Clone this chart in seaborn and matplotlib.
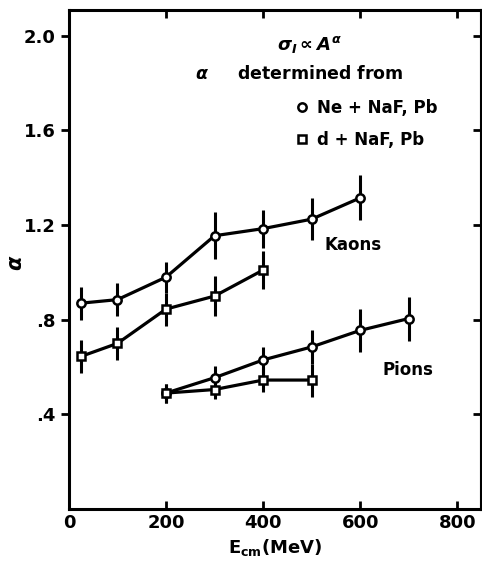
import pandas as pd
import seaborn as sns
import matplotlib.pyplot as plt
from matplotlib.lines import Line2D

# kaons
kaon_ne_x = [25, 100, 200, 300, 400, 500, 600]
kaon_ne_y = [0.87, 0.885, 0.98, 1.155, 1.185, 1.225, 1.315]
kaon_ne_err = [0.07, 0.07, 0.065, 0.10, 0.08, 0.09, 0.095]

kaon_d_x = [25, 100, 200, 300, 400]
kaon_d_y = [0.645, 0.70, 0.845, 0.90, 1.01]
kaon_d_err = [0.07, 0.07, 0.07, 0.085, 0.08]

# pions
pion_ne_x = [200, 300, 400, 500, 600, 700]
pion_ne_y = [0.49, 0.555, 0.63, 0.685, 0.755, 0.805]
pion_ne_err = [0.04, 0.05, 0.055, 0.07, 0.09, 0.093]

pion_d_x = [200, 300, 400, 500]
pion_d_y = [0.49, 0.505, 0.545, 0.545]
pion_d_err = [0.04, 0.04, 0.05, 0.07]

x_ticks = [0, 200, 400, 600, 800]
y_ticks = [0.4, 0.8, 1.2, 1.6, 2.0]
y_tick_labels = ['.4', '.8', '1.2', '1.6', '2.0']

sns.set_style('ticks')
plt.rcParams['font.family'] = ['DejaVu Sans']
plt.rcParams['font.weight'] = 'bold'
plt.rcParams['mathtext.fontset'] = 'dejavusans'
for key in ['text.color', 'axes.labelcolor', 'xtick.color', 'ytick.color', 'axes.edgecolor']:
    plt.rcParams[key] = 'black'

fig = plt.figure(figsize=(4.82, 5.70), dpi=100)
ax = fig.add_axes([0.143, 0.107, 0.855, 0.875])

series = [
    (kaon_ne_x, kaon_ne_y, kaon_ne_err, 'o'),
    (kaon_d_x, kaon_d_y, kaon_d_err, 's'),
    (pion_ne_x, pion_ne_y, pion_ne_err, 'o'),
    (pion_d_x, pion_d_y, pion_d_err, 's'),
]
for xs, ys, errs, mk in series:
    df = pd.DataFrame({'E': xs, 'alpha': ys})
    ax.errorbar(xs, ys, yerr=errs, fmt='none', ecolor='black', elinewidth=2.2, capsize=0, zorder=2)
    sns.lineplot(data=df, x='E', y='alpha', ax=ax, color='black', linewidth=2.3,
                 marker=mk, markersize=6 if mk == 'o' else 5.5, markerfacecolor='white',
                 markeredgecolor='black', markeredgewidth=1.8, zorder=3)

ax.set_xlim(0, 849)
ax.set_ylim(0, 2.108)
ax.set_xticks(x_ticks)
ax.set_yticks(y_ticks)
ax.set_yticklabels(y_tick_labels)
ax.tick_params(axis='both', labelsize=13, width=2, length=6)
ax.tick_params(axis='x', direction='in', top=True)
ax.tick_params(axis='y', direction='out')
for lab in ax.get_xticklabels() + ax.get_yticklabels():
    lab.set_fontweight('bold')
for side in ['top', 'right', 'left', 'bottom']:
    ax.spines[side].set_linewidth(2.2)

# inward ticks on the right side
ax_r = ax.twinx()
ax_r.set_ylim(ax.get_ylim())
ax_r.set_yticks(y_ticks)
ax_r.tick_params(axis='y', direction='in', width=2, length=6, labelright=False)
ax_r.spines['right'].set_linewidth(2.2)

ax.set_xlabel(r'E$_{\mathbf{cm}}$(MeV)', fontsize=13, fontweight='bold', labelpad=4)
ax.set_ylabel(r'$\alpha$', fontsize=15)
ax.yaxis.set_label_coords(-0.105, 0.493)

ax.text(0.505, 0.932, r'$\sigma_I \propto A^{\alpha}$', transform=ax.transAxes,
        ha='left', va='center', fontsize=13)
ax.text(0.305, 0.872, r'$\alpha$     determined from', transform=ax.transAxes,
        ha='left', va='center', fontsize=12.5, fontweight='bold')

handles = [
    Line2D([], [], linestyle='none', marker='o', markersize=6, markerfacecolor='white',
           markeredgecolor='black', markeredgewidth=1.8, label='Ne + NaF, Pb'),
    Line2D([], [], linestyle='none', marker='s', markersize=5.5, markerfacecolor='white',
           markeredgecolor='black', markeredgewidth=1.8, label='d + NaF, Pb'),
]
ax.legend(handles=handles, loc='upper left', bbox_to_anchor=(0.53, 0.835), frameon=False,
          prop={'size': 12, 'weight': 'bold'}, handletextpad=0.4, labelspacing=0.8,
          handlelength=1.0, borderaxespad=0)

ax.text(0.62, 0.53, 'Kaons', transform=ax.transAxes, ha='left', va='center',
        fontsize=12, fontweight='bold')
ax.text(0.762, 0.278, 'Pions', transform=ax.transAxes, ha='left', va='center',
        fontsize=12, fontweight='bold')

fig.savefig('out.png', dpi=100)
